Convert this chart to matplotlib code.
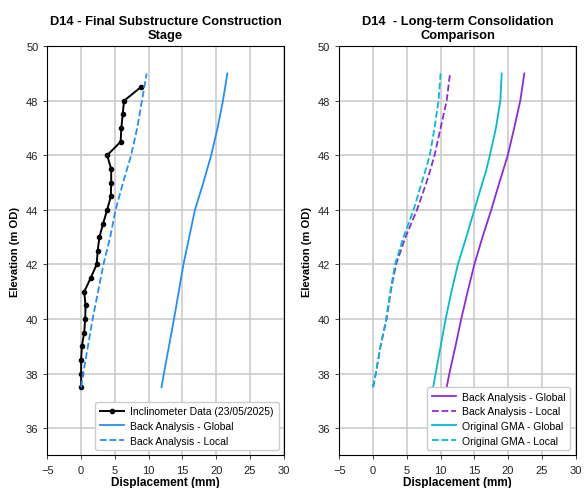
import matplotlib.pyplot as plt

plt.rcParams['font.family'] = ['Liberation Sans', 'DejaVu Sans']

# Inclinometer readings (23/05/2025)
incl_elev = [48.5, 48.0, 47.5, 47.0, 46.5, 46.0, 45.5, 45.0, 44.5, 44.0, 43.5, 43.0,
             42.5, 42.0, 41.5, 41.0, 40.5, 40.0, 39.5, 39.0, 38.5, 38.0, 37.5]
incl_disp = [8.85, 6.35, 6.15, 5.95, 5.85, 3.85, 4.45, 4.45, 4.4, 3.85, 3.25, 2.7,
             2.45, 2.3, 1.4, 0.45, 0.65, 0.6, 0.45, 0.1, 0.0, 0.0, 0.0]

# Back analysis profiles (final substructure stage)
ba_elev = [37.5, 38, 39, 40, 41, 42, 43, 44, 45, 46, 47, 48, 49]
ba_global = [11.9, 12.25, 13.0, 13.75, 14.45, 15.15, 16.0, 16.85, 18.1, 19.25, 20.2, 21.0, 21.65]
ba_local = [0.0, 0.3, 1.0, 1.7, 2.5, 3.3, 4.3, 5.1, 6.2, 7.4, 8.3, 9.0, 9.7]

# Long-term consolidation profiles
lt_elev = [37.5, 38, 39, 40, 41, 42, 43, 44, 45, 45.4, 46, 47, 48, 49]
lt_ba_global = [10.9, 11.3, 12.2, 13.05, 14.0, 15.0, 16.2, 17.5, 18.7, 19.2, 19.95, 20.9, 21.8, 22.4]
lt_ba_local = [0.0, 0.4, 1.1, 2.0, 2.6, 3.4, 4.8, 6.5, 7.9, 8.4, 9.1, 10.0, 10.9, 11.4]
lt_gma_global = [8.9, 9.26, 10.0, 10.75, 11.6, 12.56, 13.8, 15.0, 16.2, 16.7, 17.3, 18.2, 18.85, 19.05]
lt_gma_local = [0.0, 0.4, 1.1, 1.95, 2.55, 3.25, 4.5, 6.0, 7.2, 7.7, 8.4, 9.1, 9.7, 10.0]

fig = plt.figure(figsize=(5.85, 4.89), dpi=100)
ax1 = fig.add_axes([0.081, 0.0665, 0.404, 0.837])
ax2 = fig.add_axes([0.580, 0.0665, 0.404, 0.837])

blue = '#1E90FF'
purple = '#8A2BE2'
cyan = '#00BCD4'

ax1.plot(incl_disp, incl_elev, color='black', marker='o', markersize=3,
         linewidth=1.4, label='Inclinometer Data (23/05/2025)')
ax1.plot(ba_global, ba_elev, color=blue, linewidth=1.3, label='Back Analysis - Global')
ax1.plot(ba_local, ba_elev, color=blue, linewidth=1.3, linestyle='--',
         label='Back Analysis - Local')
ax1.set_title('D14 - Final Substructure Construction\nStage', fontsize=9.3,
              fontweight='bold', linespacing=1.2, pad=6)

ax2.plot(lt_ba_global, lt_elev, color=purple, linewidth=1.3, label='Back Analysis - Global')
ax2.plot(lt_ba_local, lt_elev, color=purple, linewidth=1.3, linestyle='--',
         label='Back Analysis - Local')
ax2.plot(lt_gma_global, lt_elev, color=cyan, linewidth=1.3, label='Original GMA - Global')
ax2.plot(lt_gma_local, lt_elev, color=cyan, linewidth=1.3, linestyle='--',
         label='Original GMA - Local')
ax2.set_title('D14  - Long-term Consolidation\nComparison', fontsize=9.3,
              fontweight='bold', linespacing=1.2, pad=6)

for ax in (ax1, ax2):
    ax.set_xlim(-5, 30)
    ax.set_ylim(35, 50)
    ax.set_xticks(range(-5, 31, 5))
    ax.set_yticks(range(36, 51, 2))
    ax.grid(True, color='#c8c8c8', linewidth=1.1)
    ax.set_axisbelow(True)
    ax.tick_params(labelsize=8, length=3, width=0.6, colors='#222222')
    for s in ax.spines.values():
        s.set_linewidth(0.8)
    ax.set_xlabel('Displacement (mm)', fontsize=8.5, fontweight='bold', labelpad=1)
    ax.set_ylabel('Elevation (m OD)', fontsize=8, fontweight='bold', labelpad=4)
    ax.legend(loc='lower right', fontsize=7.5, handlelength=2.3, borderpad=0.45,
              labelspacing=0.45, handletextpad=0.6, framealpha=1.0, fancybox=True)

fig.savefig('out.png', dpi=100)
